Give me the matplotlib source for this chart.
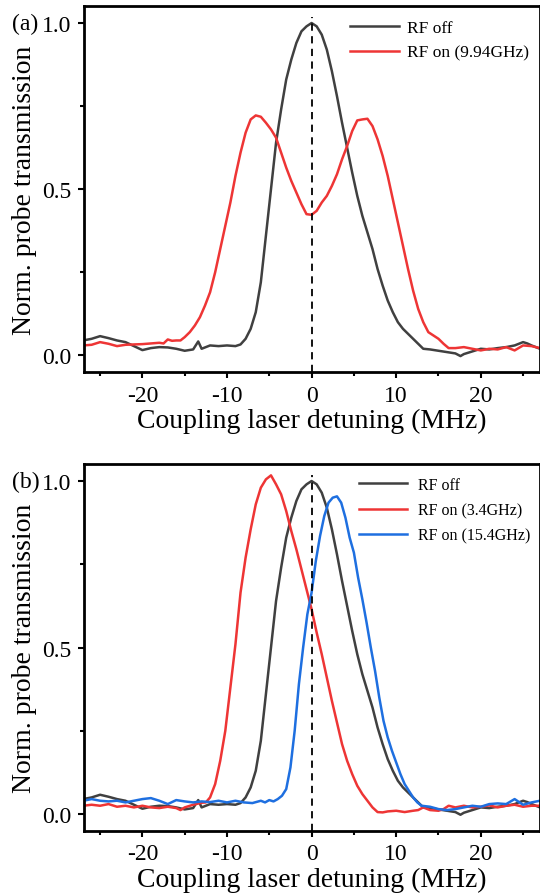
import numpy as np
import matplotlib
matplotlib.use("Agg")
import matplotlib.pyplot as plt
from matplotlib.ticker import MultipleLocator

plt.rcParams['font.family'] = ['Liberation Serif', 'DejaVu Serif']
plt.rcParams['axes.unicode_minus'] = False

# RF off (same trace in both panels)
x_off = [-27, -26, -25, -24, -23, -22, -21, -20, -19, -18, -17, -16, -15, -14, -13.4, -13, -12.5, -12,
         -11, -10, -9, -8.4, -7.8, -7.2, -6.6, -6, -5.4, -4.8, -4.2, -3.6, -3, -2.4, -1.8, -1.2, -0.6,
         0, 0.6, 1.2, 1.8, 2.4, 3, 3.6, 4.2, 4.8, 5.4, 6, 6.6, 7.2, 7.8, 8.4, 9, 9.6, 10.2, 10.8, 11.4,
         12, 12.6, 13.2, 14, 15, 16, 17, 17.6, 18, 19, 20, 21, 22, 23, 24, 25, 25.5, 26, 27]
y_off = [0.045, 0.05, 0.058, 0.052, 0.045, 0.04, 0.028, 0.016, 0.022, 0.025, 0.024, 0.02, 0.014, 0.018,
         0.042, 0.02, 0.025, 0.03, 0.028, 0.03, 0.028, 0.033, 0.05, 0.08, 0.13, 0.22, 0.36, 0.50, 0.64,
         0.74, 0.83, 0.89, 0.94, 0.975, 0.99, 1.0, 0.99, 0.965, 0.92, 0.855, 0.78, 0.70, 0.625, 0.55,
         0.48, 0.42, 0.37, 0.32, 0.26, 0.21, 0.165, 0.13, 0.10, 0.08, 0.065, 0.05, 0.035, 0.02, 0.018,
         0.014, 0.01, 0.006, -0.002, 0.004, 0.012, 0.02, 0.018, 0.022, 0.025, 0.03, 0.04, 0.036, 0.03, 0.02]

# RF on 9.94 GHz (panel a)
x_a = [-27, -26, -25, -24, -23, -22, -21, -20, -19, -18, -17.5, -17, -16.5, -16, -15.5, -15, -14.4,
       -13.8, -13.2, -12.6, -12, -11.4, -10.8, -10.2, -9.6, -9, -8.4, -7.8, -7.2, -6.6, -6, -5.4, -4.8,
       -4.2, -3.6, -3, -2.4, -1.8, -1.2, -0.6, 0, 0.6, 1.2, 1.8, 2.4, 3, 3.6, 4.2, 4.8, 5.4, 6, 6.6,
       7.2, 7.8, 8.4, 9, 9.6, 10.2, 10.8, 11.4, 12, 12.6, 13.2, 13.8, 14.4, 15, 15.6, 16.2, 17, 18, 19,
       20, 21, 22, 23, 24, 25, 26, 27]
y_a = [0.03, 0.032, 0.04, 0.035, 0.028, 0.032, 0.033, 0.034, 0.036, 0.038, 0.036, 0.048, 0.044, 0.045,
       0.045, 0.055, 0.07, 0.09, 0.115, 0.15, 0.19, 0.25, 0.32, 0.39, 0.46, 0.54, 0.61, 0.67, 0.71,
       0.722, 0.718, 0.70, 0.68, 0.655, 0.61, 0.565, 0.525, 0.49, 0.455, 0.425, 0.423, 0.435, 0.46,
       0.48, 0.51, 0.545, 0.59, 0.63, 0.675, 0.707, 0.71, 0.712, 0.69, 0.65, 0.60, 0.54, 0.47, 0.40,
       0.33, 0.26, 0.195, 0.14, 0.10, 0.07, 0.06, 0.05, 0.035, 0.022, 0.022, 0.025, 0.02, 0.015, 0.02,
       0.018, 0.025, 0.015, 0.03, 0.028, 0.022]

# RF on 3.4 GHz (panel b)
x_b1 = [-27, -26, -25, -24, -23, -22, -21, -20, -19, -18, -17, -16, -15.5, -15, -14, -13, -12.5, -12,
        -11.4, -10.8, -10.2, -9.6, -9, -8.4, -7.8, -7.2, -6.6, -6, -5.4, -4.8, -4.2, -3.6, -3, -2.4,
        -1.8, -1.2, -0.6, 0, 0.6, 1.2, 1.8, 2.4, 3, 3.6, 4.2, 4.8, 5.4, 6, 6.6, 7.2, 7.8, 8.4, 9, 10,
        11, 12, 12.6, 13.2, 14, 15, 15.6, 16.2, 17, 18, 19, 20, 21, 22, 23, 24, 25, 26, 27]
y_b1 = [0.025, 0.028, 0.025, 0.03, 0.022, 0.025, 0.02, 0.025, 0.02, 0.018, 0.022, 0.018, 0.012, 0.02,
        0.028, 0.034, 0.035, 0.05, 0.09, 0.16, 0.25, 0.38, 0.51, 0.665, 0.77, 0.855, 0.93, 0.98, 1.005,
        1.017, 0.99, 0.96, 0.91, 0.85, 0.795, 0.735, 0.675, 0.615, 0.545, 0.48, 0.41, 0.34, 0.275,
        0.21, 0.16, 0.12, 0.085, 0.06, 0.04, 0.02, 0.006, 0.005, 0.008, 0.01, 0.006, 0.01, 0.012,
        0.02, 0.012, 0.01, 0.015, 0.025, 0.02, 0.025, 0.02, 0.022, 0.026, 0.02, 0.025, 0.028, 0.022,
        0.025, 0.025]

# RF on 15.4 GHz (panel b)
x_b2 = [-27, -26, -25, -24, -23, -22, -21, -20, -19, -18, -17, -16, -15, -14, -13, -12, -11, -10, -9,
        -8, -7, -6, -5.5, -5, -4.5, -4, -3.5, -3, -2.5, -2, -1.5, -1, -0.5, 0, 0.5, 1, 1.5, 2, 2.5, 3,
        3.5, 4, 4.5, 5, 5.5, 6, 6.5, 7, 7.5, 8, 8.5, 9, 9.5, 10, 10.5, 11, 11.5, 12, 12.5, 13, 14, 15,
        16, 17, 18, 19, 20, 21, 22, 23, 24, 25, 26, 27]
y_b2 = [0.04, 0.045, 0.04, 0.038, 0.04, 0.035, 0.04, 0.045, 0.048, 0.04, 0.03, 0.042, 0.038, 0.035,
        0.038, 0.036, 0.04, 0.035, 0.04, 0.035, 0.033, 0.04, 0.035, 0.042, 0.038, 0.045, 0.055, 0.075,
        0.14, 0.25, 0.39, 0.50, 0.60, 0.665, 0.76, 0.835, 0.895, 0.935, 0.95, 0.954, 0.935, 0.89,
        0.83, 0.785, 0.71, 0.645, 0.575, 0.50, 0.43, 0.35, 0.28, 0.23, 0.19, 0.155, 0.12, 0.09, 0.07,
        0.05, 0.035, 0.025, 0.022, 0.015, 0.012, 0.015, 0.02, 0.025, 0.022, 0.03, 0.032, 0.03, 0.045,
        0.028, 0.035, 0.04]

c_off = '#404040'
c_red = '#ee3535'
c_blue = '#1e6fe0'

fig = plt.figure(figsize=(5.4, 8.95), dpi=100)
ax1 = fig.add_axes([0.1556, 0.5832, 0.8444, 0.4089])
ax2 = fig.add_axes([0.1556, 0.0707, 0.8444, 0.4097])

ax1.plot(x_off, y_off, color=c_off, lw=1.8, label='RF off')
ax1.plot(x_a, y_a, color=c_red, lw=1.8, label='RF on (9.94GHz)')

ax2.plot(x_off, y_off, color=c_off, lw=1.8, label='RF off')
ax2.plot(x_b1, y_b1, color=c_red, lw=1.8, label='RF on (3.4GHz)')
ax2.plot(x_b2, y_b2, color=c_blue, lw=1.8, label='RF on (15.4GHz)')

for ax, tag in [(ax1, '(a)'), (ax2, '(b)')]:
    ax.axvline(0, ymin=0, ymax=0.97, color='black', lw=1.3, ls=(0, (4, 3)))
    ax.set_xlim(-26.9, 27)
    ax.set_ylim(-0.05, 1.051)
    ax.xaxis.set_major_locator(MultipleLocator(10))
    ax.xaxis.set_minor_locator(MultipleLocator(5))
    ax.yaxis.set_major_locator(MultipleLocator(0.5))
    ax.yaxis.set_minor_locator(MultipleLocator(0.25))
    ax.tick_params(which='major', length=4, width=1.5, labelsize=17, pad=5)
    ax.tick_params(which='minor', length=3, width=1.5)
    for s in ax.spines.values():
        s.set_linewidth(2)
    ax.set_xlabel('Coupling laser detuning (MHz)', fontsize=20, labelpad=2)
    ax.set_ylabel('Norm. probe transmission', fontsize=20, labelpad=4)
    ax.text(-0.158, 1.0, tag, transform=ax.get_yaxis_transform(), fontsize=17,
            va='center', ha='left')

ax1.legend(loc='upper left', bbox_to_anchor=(0.55, 1.005), frameon=False, fontsize=12.5,
           handlelength=2.8, handletextpad=0.45, labelspacing=0.5)
ax2.legend(loc='upper left', bbox_to_anchor=(0.572, 1.005), frameon=False, fontsize=11.5,
           handlelength=3.0, handletextpad=0.65, labelspacing=0.6)

fig.savefig('out.png', dpi=100)
